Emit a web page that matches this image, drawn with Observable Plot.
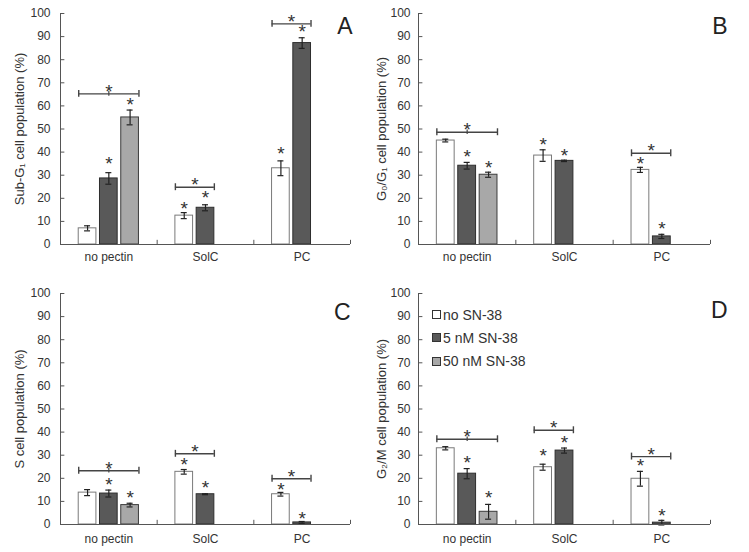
<!DOCTYPE html>
<html><head><meta charset="utf-8">
<script src="https://cdn.jsdelivr.net/npm/d3@7"></script>
<script src="https://cdn.jsdelivr.net/npm/@observablehq/plot@0.6"></script>
<style>
body{margin:0;background:#fff;}
#wrap{position:relative;width:749px;height:552px;overflow:hidden;font-family:'Liberation Sans',Arial,sans-serif;}
.panel{position:absolute;}
.panel svg{overflow:visible;}
#legend{position:absolute;left:432px;top:303px;font-size:14px;color:#333;}
#legend .row{display:flex;align-items:center;height:23.3px;}
#legend .sw{width:9px;height:9px;border:1px solid #333;box-sizing:border-box;margin-right:2px;}
</style></head><body><div id="wrap"></div>
<script>
const categories = ["no pectin", "SolC", "PC"];
const series = ["no SN-38", "5 nM SN-38", "50 nM SN-38"];
const yTicks = [0, 10, 20, 30, 40, 50, 60, 70, 80, 90, 100];
const fills = ["#ffffff", "#595959", "#a8a8a8"];
const strokes = ["#7a7a7a", "#2e2e2e", "#3c3c3c"];

// Panel A: Sub-G1 (rows = categories, columns = series)
const subG1Mean = [[7, 28.6, 55], [12.5, 15.9, null], [33, 87.2, null]];
const subG1Err = [[1.1, 2.5, 3.2], [1.3, 1.3, null], [3.2, 2.3, null]];
const subG1Star = [[null, 36.4, 61.9], [16.9, 21.6, null], [40.4, 93.4, null]];
const subG1Bracket = [65.2, 24.8, 95.5];

// Panel B: G0/G1
const g0g1Mean = [[45, 34.1, 30.2], [38.5, 36.2, null], [32.3, 3.5, null]];
const g0g1Err = [[0.6, 1.45, 1.1], [2.5, 0.3, null], [1.1, 0.9, null]];
const g0g1Star = [[null, 39.3, 34.6], [44.3, 39.5, null], [36.4, 8.2, null]];
const g0g1Bracket = [48.6, null, 39.5];

// Panel C: S
const sMean = [[13.8, 13.4, 8.4], [22.8, 13.1, null], [13.1, 0.9, null]];
const sErr = [[1.3, 1.5, 0.8], [1.0, 0.2, null], [0.8, 0.4, null]];
const sStar = [[null, 18.6, 12.8], [27.2, 17.2, null], [16.4, 3.7, null]];
const sBracket = [23.3, 30.6, 19.8];

// Panel D: G2/M
const g2mMean = [[33, 22, 5.5], [24.8, 32, null], [19.8, 0.8, null]];
const g2mErr = [[0.7, 2.2, 3.2], [1.3, 1.1, null], [3.2, 1.0, null]];
const g2mStar = [[null, 28, 12.8], [30.8, 36.6, null], [26.8, 4.9, null]];
const g2mBracket = [36.9, 40.8, 29.4];

const step = 0.22, barW = 0.183, capW = 0.031, brCap = 1.5, midCap = 1.0;
const axisColor = "#555", textColor = "#333";

function makePanel(p) {
  const rows = [];
  categories.forEach((c, ci) => series.forEach((s, si) => {
    const v = p.mean[ci][si];
    if (v == null) return;
    rows.push({ci, si, xc: ci + 0.5 + (si - 1) * step, v, e: p.err[ci][si], star: p.star[ci][si]});
  }));
  const caps = rows.flatMap(d => [{xc: d.xc, y: d.v - d.e}, {xc: d.xc, y: d.v + d.e}]);
  const brs = [];
  categories.forEach((c, ci) => {
    const y = p.bracket[ci];
    if (y == null) return;
    const n = p.mean[ci].filter(v => v != null).length;
    const xa = ci + 0.5 - step - barW / 2;
    const xb = ci + 0.5 + (n - 2) * step + barW / 2;
    brs.push({y, xa, xb, xm: (xa + xb) / 2, n});
  });
  const brEnds = brs.flatMap(b => [{x: b.xa, y: b.y}, {x: b.xb, y: b.y}]);
  const brMid = brs.filter(b => b.n === 3);
  const edges = categories.map((c, i) => i + 1);
  const centers = categories.map((c, i) => i + 0.5);

  const svg = Plot.plot({
    width: p.w, height: p.h,
    marginLeft: p.ml, marginRight: p.mr, marginTop: p.mt, marginBottom: p.mb,
    x: {domain: [0, 3], axis: null},
    y: {domain: [0, 100], axis: null},
    style: {fontFamily: "'Liberation Sans', Arial, sans-serif", background: "transparent", overflow: "visible"},
    marks: [
      ...series.map((s, si) => Plot.rectY(rows.filter(d => d.si === si), {
        x1: d => d.xc - barW / 2, x2: d => d.xc + barW / 2, y1: 0, y2: "v",
        fill: fills[si], stroke: strokes[si], strokeWidth: 1
      })),
      Plot.ruleX(rows, {x: "xc", y1: d => d.v - d.e, y2: d => d.v + d.e, stroke: "#222", strokeWidth: 1.2}),
      Plot.ruleY(caps, {y: "y", x1: d => d.xc - capW, x2: d => d.xc + capW, stroke: "#222", strokeWidth: 1.2}),
      Plot.text(rows.filter(d => d.star != null), {x: "xc", y: "star", text: () => "*", fontSize: 19, dy: 3, fill: textColor}),
      Plot.ruleY(brs, {y: "y", x1: "xa", x2: "xb", stroke: "#444", strokeWidth: 1.4}),
      Plot.ruleX(brEnds, {x: "x", y1: d => d.y - brCap, y2: d => d.y + brCap, stroke: "#444", strokeWidth: 1.4}),
      Plot.ruleX(brMid, {x: "xm", y1: d => d.y - midCap, y2: d => d.y + midCap, stroke: "#444", strokeWidth: 1.2}),
      Plot.text(brs, {x: "xm", y: "y", text: () => "*", fontSize: 19, dy: -2, fill: textColor}),
      // axes
      Plot.ruleX([0], {stroke: axisColor}),
      Plot.ruleY([0], {stroke: axisColor}),
      Plot.ruleY(yTicks, {y: d => d, x1: 0, x2: 0.045, stroke: axisColor}),
      Plot.ruleX(edges, {x: d => d, y1: 0, y2: 1.8, stroke: axisColor}),
      Plot.text(yTicks, {y: d => d, frameAnchor: "left", textAnchor: "end", dx: -p.tickPad, fontSize: 12, fill: textColor}),
      Plot.text(categories, {x: (d, i) => centers[i], frameAnchor: "bottom", lineAnchor: "top", dy: p.catDy, fontSize: 12, fill: textColor}),
      Plot.text([p.label], {frameAnchor: "left", rotate: -90, textAnchor: "middle", dx: p.labelDx, fontSize: 13, fill: textColor}),
      Plot.text([p.letter], {frameAnchor: "top-right", textAnchor: "end", lineAnchor: "top", dx: p.letterDx, dy: p.letterDy, fontSize: 23, fill: "#222"})
    ]
  });
  const div = document.createElement("div");
  div.className = "panel";
  div.style.left = p.left + "px";
  div.style.top = p.top + "px";
  div.appendChild(svg);
  document.getElementById("wrap").appendChild(div);
}

const panels = [
  {letter: "A", mean: subG1Mean, err: subG1Err, star: subG1Star, bracket: subG1Bracket, label: "Sub-G\u2081 cell population (%)",
   left: 0, top: 0, w: 375, h: 276, ml: 60, mr: 25, mt: 13, mb: 32, tickPad: 10, catDy: 8, labelDx: -41, letterDx: 2, letterDy: 4},
  {letter: "B", mean: g0g1Mean, err: g0g1Err, star: g0g1Star, bracket: g0g1Bracket, label: "G\u2080/G\u2081 cell population (%)",
   left: 366, top: 0, w: 383, h: 276, ml: 52, mr: 39, mt: 13, mb: 32, tickPad: 8, catDy: 8, labelDx: -37, letterDx: 17, letterDy: 4},
  {letter: "C", mean: sMean, err: sErr, star: sStar, bracket: sBracket, label: "S cell population (%)",
   left: 0, top: 276, w: 375, h: 276, ml: 60, mr: 25, mt: 17, mb: 28, tickPad: 10, catDy: 10, labelDx: -41, letterDx: 0, letterDy: 10},
  {letter: "D", mean: g2mMean, err: g2mErr, star: g2mStar, bracket: g2mBracket, label: "G\u2082/M cell population (%)",
   left: 366, top: 276, w: 383, h: 276, ml: 52, mr: 39, mt: 17, mb: 28, tickPad: 8, catDy: 10, labelDx: -37, letterDx: 17, letterDy: 8}
];
panels.forEach(makePanel);

// legend (panel D)
const legend = document.createElement("div");
legend.id = "legend";
series.forEach((s, i) => {
  const row = document.createElement("div");
  row.className = "row";
  const sw = document.createElement("span");
  sw.className = "sw";
  sw.style.background = fills[i];
  const t = document.createElement("span");
  t.textContent = s;
  row.appendChild(sw);
  row.appendChild(t);
  legend.appendChild(row);
});
document.getElementById("wrap").appendChild(legend);
</script></body></html>
